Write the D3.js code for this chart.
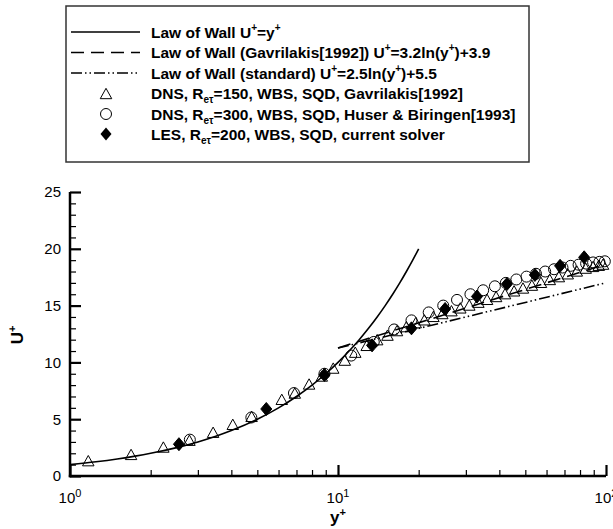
<!DOCTYPE html>
<html>
<head>
<meta charset="utf-8">
<script src="https://cdn.jsdelivr.net/npm/d3@7"></script>
<style>
  html, body { margin: 0; padding: 0; background: #fff; }
  svg { display: block; font-family: "Liberation Sans", Arial, Helvetica, sans-serif; }
</style>
</head>
<body>
<svg id="chart" width="613" height="529"></svg>
<script>
// ---------------- data ----------------
// Law of wall U+ = y+ (sampled points)
const lawWallY = [1, 1.25, 1.5, 1.75, 2, 2.5, 3, 3.5, 4, 5, 6, 7, 8, 9, 10, 11, 12, 13, 14, 15, 16, 17, 18, 19, 20];
const lawWallU = [1, 1.25, 1.5, 1.75, 2, 2.5, 3, 3.5, 4, 5, 6, 7, 8, 9, 10, 11, 12, 13, 14, 15, 16, 17, 18, 19, 20];
// Law of wall (Gavrilakis) U+ = 3.2 ln(y+) + 3.9 (straight on log axis)
const gavLawY = [10, 100];
const gavLawU = [11.27, 18.64];
// Law of wall (standard) U+ = 2.5 ln(y+) + 5.5
const stdLawY = [10, 100];
const stdLawU = [11.26, 17.01];

// DNS Re=150, Gavrilakis [1992]
const dns150Y = [1.17, 1.69, 2.23, 2.79, 3.42, 4.05, 4.76, 6.17, 6.9, 7.8, 8.7, 9.6, 10.6, 11.6, 12.8, 14.0, 15.3,
                 16.6, 18.0, 19.5, 21.0, 22.7, 24.5, 26.5, 28.6, 30.9, 33.4, 36.0, 38.9, 42.0, 45.4, 49.0, 52.9,
                 57.2, 61.7, 66.7, 72.0, 77.8, 84.0, 89.5, 94.0, 97.5];
const dns150U = [1.35, 1.9, 2.55, 3.15, 3.85, 4.55, 5.25, 6.75, 7.3, 8.1, 8.8, 9.5, 10.2, 10.9, 11.5, 12.0, 12.4,
                 12.8, 13.15, 13.5, 13.75, 14.05, 14.3, 14.55, 14.8, 15.05, 15.3, 15.55, 15.8, 16.05, 16.3, 16.55, 16.8,
                 17.05, 17.3, 17.55, 17.8, 18.05, 18.3, 18.45, 18.55, 18.65];

// DNS Re=300, Huser & Biringen [1993]
const dns300Y = [2.8, 4.75, 6.85, 8.9, 11.2, 13.6, 16.2, 18.8, 21.8, 24.7, 27.8, 31.2, 34.8, 38.5, 42.3, 46.3,
                 50.5, 54.8, 59.3, 64.0, 68.8, 73.8, 79.0, 84.3, 89.5, 94.5, 99.0];
const dns300U = [3.2, 5.15, 7.3, 9.0, 10.6, 11.8, 12.9, 13.7, 14.4, 15.0, 15.5, 16.0, 16.35, 16.7, 17.0, 17.3,
                 17.55, 17.8, 18.0, 18.2, 18.35, 18.5, 18.6, 18.7, 18.8, 18.85, 18.9];

// LES Re=200, current solver
const lesY = [2.55, 5.4, 8.9, 13.4, 18.8, 25.1, 33.0, 42.7, 54.3, 67.4, 82.9];
const lesU = [2.8, 5.9, 8.9, 11.5, 13.0, 14.7, 15.8, 16.9, 17.7, 18.5, 19.25];

// ticks
const yMajorTicks = [0, 5, 10, 15, 20, 25];
const yMinorTicks = d3.range(0, 26);
const xMajorTicks = [1, 10, 100];
const xMajorExp = ["0", "1", "2"];
const xMinorTicks = [2,3,4,5,6,7,8,9,20,30,40,50,60,70,80,90];

const legendLabels = [
  {type: "solid", parts: [["Law of Wall U",""],["+","sup"],["=y",""],["+","sup"]]},
  {type: "dash", parts: [["Law of Wall (Gavrilakis[1992]) U",""],["+","sup"],["=3.2ln(y",""],["+","sup"],[")+3.9",""]]},
  {type: "dashdot", parts: [["Law of Wall (standard) U",""],["+","sup"],["=2.5ln(y",""],["+","sup"],[")+5.5",""]]},
  {type: "tri", parts: [["DNS, R",""],["eτ","sub"],["=150, WBS, SQD, Gavrilakis[1992]",""]]},
  {type: "circ", parts: [["DNS, R",""],["eτ","sub"],["=300, WBS, SQD, Huser & Biringen[1993]",""]]},
  {type: "diam", parts: [["LES, R",""],["eτ","sub"],["=200, WBS, SQD, current solver",""]]}
];

// ---------------- drawing ----------------
const svg = d3.select("#chart");
const x = d3.scaleLog().domain([1, 100]).range([70, 606]);
const y = d3.scaleLinear().domain([0, 25]).range([476, 192]);

const dashStyle = "13,7";
const dashDotStyle = "11,3,1.5,3,1.5,3";

// curves
const lineGen = d3.line().x(d => x(d[0])).y(d => y(d[1]));
svg.append("path").datum(lawWallY.map((v,i)=>[v, lawWallU[i]]))
  .attr("d", lineGen.curve(d3.curveMonotoneX)).attr("fill","none").attr("stroke","#000").attr("stroke-width",1.6);
svg.append("path").datum(gavLawY.map((v,i)=>[v, gavLawU[i]]))
  .attr("d", d3.line().x(d => x(d[0])).y(d => y(d[1]))).attr("fill","none").attr("stroke","#000")
  .attr("stroke-width",1.6).attr("stroke-dasharray",dashStyle);
svg.append("path").datum(stdLawY.map((v,i)=>[v, stdLawU[i]]))
  .attr("d", d3.line().x(d => x(d[0])).y(d => y(d[1]))).attr("fill","none").attr("stroke","#000")
  .attr("stroke-width",1.6).attr("stroke-dasharray",dashDotStyle);

// markers
function triPath(cx, cy, s) { // bbox-centred triangle
  const h = s * 0.9;
  return `M${cx},${cy - h/2}L${cx + s/2},${cy + h/2}L${cx - s/2},${cy + h/2}Z`;
}
function diamPath(cx, cy, s) {
  return `M${cx},${cy - s/2}L${cx + s/2*0.85},${cy}L${cx},${cy + s/2}L${cx - s/2*0.85},${cy}Z`;
}
const gTri = svg.append("g");
gTri.selectAll("path").data(dns150Y.map((v,i)=>[v, dns150U[i]])).join("path")
  .attr("d", d => triPath(x(d[0]), y(d[1]), 11.5))
  .attr("fill","none").attr("stroke","#000").attr("stroke-width",1);
const gCirc = svg.append("g");
gCirc.selectAll("circle").data(dns300Y.map((v,i)=>[v, dns300U[i]])).join("circle")
  .attr("cx", d => x(d[0])).attr("cy", d => y(d[1])).attr("r", 5.5)
  .attr("fill","none").attr("stroke","#000").attr("stroke-width",1);
const gDiam = svg.append("g");
gDiam.selectAll("path").data(lesY.map((v,i)=>[v, lesU[i]])).join("path")
  .attr("d", d => diamPath(x(d[0]), y(d[1]), 13))
  .attr("fill","#000").attr("stroke","#000").attr("stroke-width",1);

// axes
const axisG = svg.append("g");
axisG.append("g").attr("transform","translate(70,0)")
  .call(d3.axisRight(y).tickValues(yMajorTicks).tickSize(11).tickFormat(""))
  .call(g => g.select(".domain").remove())
  .call(g => g.selectAll("line").attr("stroke","#000").attr("stroke-width",2.2));
axisG.append("g").attr("transform","translate(70,0)")
  .call(d3.axisRight(y).tickValues(yMinorTicks.filter(v => v % 5 !== 0)).tickSize(6).tickFormat(""))
  .call(g => g.select(".domain").remove())
  .call(g => g.selectAll("line").attr("stroke","#000").attr("stroke-width",1.2));
axisG.append("g").selectAll("text").data(yMajorTicks).join("text")
  .attr("x", 61).attr("y", d => y(d)).attr("dy","0.36em").attr("text-anchor","end")
  .attr("font-size", 15).text(d => d);
axisG.append("g").attr("transform","translate(0,476)")
  .call(d3.axisTop(x).tickValues(xMajorTicks).tickSize(11).tickFormat(""))
  .call(g => g.select(".domain").remove())
  .call(g => g.selectAll("line").attr("stroke","#000").attr("stroke-width",2.2));
axisG.append("g").attr("transform","translate(0,476)")
  .call(d3.axisTop(x).tickValues(xMinorTicks).tickSize(6).tickFormat(""))
  .call(g => g.select(".domain").remove())
  .call(g => g.selectAll("line").attr("stroke","#000").attr("stroke-width",1.2));
const xl = axisG.append("g").selectAll("text").data(xMajorTicks).join("text")
  .attr("x", d => x(d)).attr("y", 503).attr("text-anchor","middle").attr("font-size", 15);
xl.append("tspan").text("10");
xl.append("tspan").attr("dy", -6).attr("font-size", 11).text((d,i) => xMajorExp[i]);
axisG.append("line").attr("x1",70).attr("x2",70).attr("y1",y(25)).attr("y2",477.2)
  .attr("stroke","#000").attr("stroke-width",2.5);
axisG.append("line").attr("x1",68.8).attr("x2",x(100)).attr("y1",476).attr("y2",476)
  .attr("stroke","#000").attr("stroke-width",2.5);

// axis titles
const xt = svg.append("text").attr("x", 338).attr("y", 523).attr("text-anchor","middle")
  .attr("font-size", 17).attr("font-weight","bold");
xt.append("tspan").text("y");
xt.append("tspan").attr("dy",-7).attr("font-size",11).text("+");
const yt = svg.append("text").attr("transform","translate(23,335) rotate(-90)").attr("text-anchor","middle")
  .attr("font-size", 17).attr("font-weight","bold");
yt.append("tspan").text("U");
yt.append("tspan").attr("dy",-7).attr("font-size",11).text("+");

// legend
const lg = svg.append("g");
lg.append("rect").attr("x", 66).attr("y", 6).attr("width", 463).attr("height", 156)
  .attr("fill","#fff").attr("stroke","#333").attr("stroke-width",1.5);
const rowY = [32, 52.5, 73, 93.5, 114, 134];
const symX = 106, lx1 = 71, lx2 = 140, tx = 151;
legendLabels.forEach((L, i) => {
  const ry = rowY[i];
  if (L.type === "solid") lg.append("line").attr("x1",lx1).attr("x2",lx2).attr("y1",ry).attr("y2",ry).attr("stroke","#000").attr("stroke-width",1.6);
  if (L.type === "dash") lg.append("line").attr("x1",lx1).attr("x2",lx2).attr("y1",ry).attr("y2",ry).attr("stroke","#000").attr("stroke-width",1.6).attr("stroke-dasharray",dashStyle);
  if (L.type === "dashdot") lg.append("line").attr("x1",lx1).attr("x2",lx2).attr("y1",ry).attr("y2",ry).attr("stroke","#000").attr("stroke-width",1.6).attr("stroke-dasharray",dashDotStyle);
  if (L.type === "tri") lg.append("path").attr("d", triPath(symX, ry, 11.5)).attr("fill","none").attr("stroke","#000");
  if (L.type === "circ") lg.append("circle").attr("cx", symX).attr("cy", ry).attr("r", 5.5).attr("fill","none").attr("stroke","#000");
  if (L.type === "diam") lg.append("path").attr("d", diamPath(symX, ry, 13)).attr("fill","#000");
  const t = lg.append("text").attr("x", tx).attr("y", ry + 5.5).attr("font-size", 15.5).attr("font-weight","bold");
  let prev = 0;
  L.parts.forEach(p => {
    const target = p[1] === "sup" ? -7 : p[1] === "sub" ? 4 : 0;
    const ts = t.append("tspan").text(p[0]).attr("dy", target - prev);
    if (p[1]) ts.attr("font-size", 10);
    prev = target;
  });
});
</script>
</body>
</html>
